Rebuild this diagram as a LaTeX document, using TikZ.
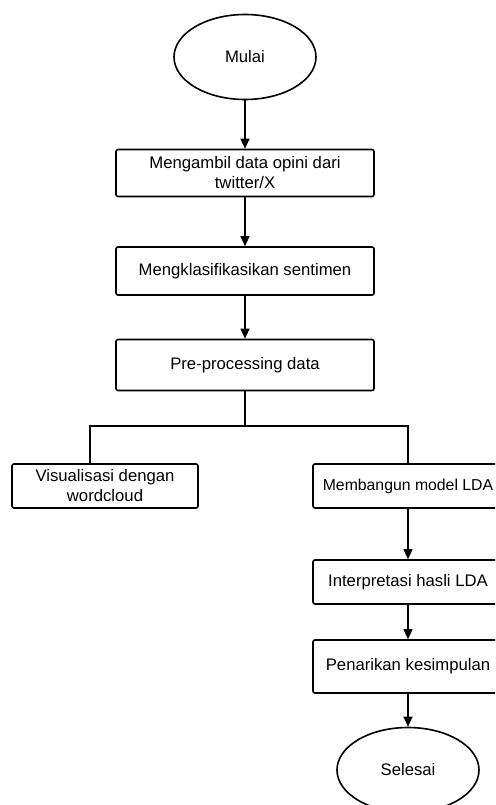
\documentclass[tikz,border=0pt]{standalone}
\usepackage{fontspec}
\setmainfont{Liberation Sans}
\usetikzlibrary{arrows.meta,shapes.geometric,positioning}
\tikzstyle{proses}  =[rectangle, draw, rounded corners=2pt,
                    line width=1.6pt, minimum width=258pt,
                    minimum height=48pt, inner sep=0pt, align=center,
                    font=\fontsize{16.7}{20}\selectfont]
\tikzstyle{terminal}=[ellipse, draw, line width=1.6pt,
                    minimum width=142pt, minimum height=85pt,
                    inner sep=0pt, font=\fontsize{16.7}{20}\selectfont]
\tikzstyle{panah}   =[-{Triangle[length=10pt,width=9pt]}, line width=1.1pt]
\tikzstyle{garis}   =[line width=1.8pt]

\begin{document}
\begin{tikzpicture}[x=1pt,y=1pt]
    \clip (0,0) rectangle (495,-805);

    % kolom atas
    \draw (245,-57) node(mulai)[terminal]{Mulai};
    \draw (245,-173) node(ambil)[proses, minimum height=47pt]
        {Mengambil data opini dari\\twitter/X};
    \draw (245,-271) node(klasifikasi)[proses]{Mengklasifikasikan sentimen};
    \draw (245,-365) node(pre)[proses, minimum height=51pt]{Pre-processing data};

    % cabang kiri dan kanan
    \draw (105,-486) node(visual)[proses, minimum width=186pt, minimum height=44pt]
        {Visualisasi dengan\\wordcloud};
    \draw (408,-486) node(lda)[proses, minimum width=190pt, minimum height=44pt,
        font=\fontsize{15.8}{20}\selectfont]{Membangun model LDA};
    \draw (408,-582) node(interpretasi)[proses, minimum width=190pt, minimum height=44pt]
        {Interpretasi hasli LDA};
    \draw (408,-666.5) node(kesimpulan)[proses, minimum width=190pt, minimum height=53pt]
        {Penarikan kesimpulan};
    \draw (408,-770) node(selesai)[terminal]{Selesai};

    \coordinate (cabang) at (245,-426);
    \coordinate (kiri) at (90,-426);

    \foreach \i/\j in
        {mulai/ambil,ambil/klasifikasi,klasifikasi/pre,
         lda/interpretasi,interpretasi/kesimpulan,kesimpulan/selesai}
        \draw [panah] (\i) -- (\j);

    \draw [garis] (pre.south) -- (cabang);
    \draw [garis] (kiri |- visual.north) |- (cabang) -| (lda.north);
\end{tikzpicture}
\end{document}
